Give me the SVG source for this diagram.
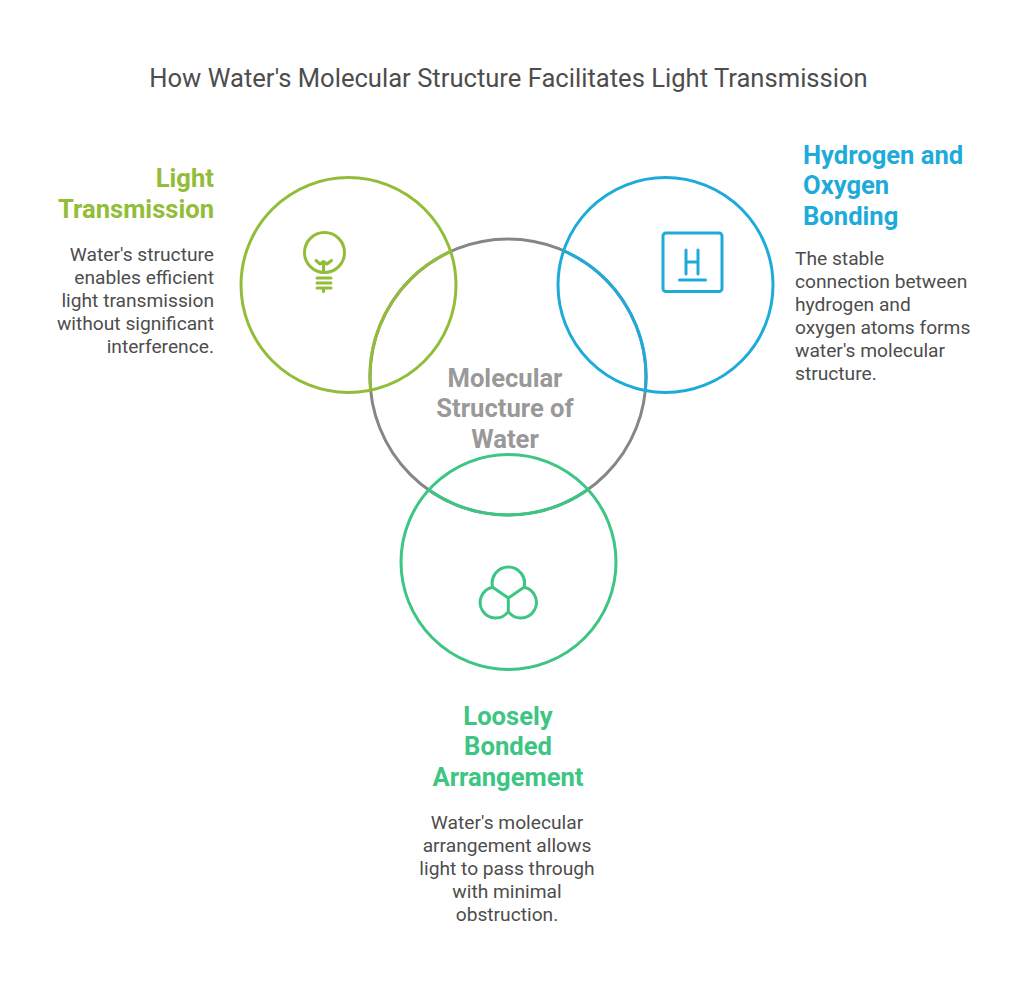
<svg xmlns="http://www.w3.org/2000/svg" width="1024" height="993" viewBox="0 0 1024 993">
<style>
text{font-family:Roboto,"Liberation Sans",sans-serif}
.t{font-size:25.600px;fill:#4d4d4d;text-anchor:middle}
.h{font-size:25.600px;font-weight:700}
.b{font-size:19.200px;fill:#4d4d4d}
.c{fill:none;stroke-width:3}
.i{fill:none;stroke-width:3;stroke-linecap:round;stroke-linejoin:round}
.g{stroke:#92bd39}.u{stroke:#1eabda}.e{stroke:#3cc583}.y{stroke:#868686}
.end{text-anchor:end}.mid{text-anchor:middle}
</style>
<rect width="1024" height="993" fill="#fff"/>
<text id="title" class="t" x="508.500" y="87">How Water's Molecular Structure Facilitates Light Transmission</text>
<g id="center">
<circle class="c y" cx="508" cy="377" r="138"/>
<g class="h mid" fill="#999"><text x="505" y="386.500">Molecular</text><text x="505" y="417.300">Structure of</text><text x="505" y="448">Water</text></g>
</g>
<g id="light">
<circle class="c g" cx="348.500" cy="285" r="107.500"/>
<circle class="i g" cx="324.500" cy="252.500" r="20"/>
<path class="i g" d="M323.500 272V261.500M316 260.500L320 264 323.500 261.500 327 264 331.500 260.500M317 278H331M317 283H331M317 288H331M323.500 288V291.500"/>
<g class="h end" fill="#92bd39"><text x="214" y="187">Light</text><text x="214" y="217.700">Transmission</text></g>
<g class="b end"><text x="214" y="261">Water's structure</text><text x="214" y="284">enables efficient</text><text x="214" y="307">light transmission</text><text x="214" y="330">without significant</text><text x="214" y="353">interference.</text></g>
</g>
<g id="hydrogen">
<circle class="c u" cx="665.500" cy="285" r="107.500"/>
<rect class="i u" x="663" y="233" width="59" height="58.500" rx="3"/>
<path class="i u" d="M686 250V274M698 250V274M686 262H698M679.500 280H705.500"/>
<g class="h" fill="#1eabda"><text x="803" y="163.700">Hydrogen and</text><text x="803" y="194.400">Oxygen</text><text x="803" y="225.100">Bonding</text></g>
<g class="b"><text x="795" y="265">The stable</text><text x="795" y="288">connection between</text><text x="795" y="311">hydrogen and</text><text x="795" y="334">oxygen atoms forms</text><text x="795" y="357">water's molecular</text><text x="795" y="380">structure.</text></g>
</g>
<g id="loose">
<circle class="c e" cx="508.500" cy="562" r="107.500"/>
<path class="i e" d="M492.700 587.300L508.300 598 524 587.300A16.200 16.200 0 1 0 492.700 587.300A15.500 15.500 0 1 0 508.300 611.500V598M508.300 611.500A15.500 15.500 0 1 0 524 587.300"/>
<g class="h mid" fill="#3cc583"><text x="508" y="724.500">Loosely</text><text x="508" y="755">Bonded</text><text x="508" y="785.700">Arrangement</text></g>
<g class="b mid"><text x="507" y="829">Water's molecular</text><text x="507" y="852">arrangement allows</text><text x="507" y="875">light to pass through</text><text x="507" y="898">with minimal</text><text x="507" y="921">obstruction.</text></g>
</g>
<g id="connectors">
<path class="c g" d="M450.600 251.400A138 138 0 0 0 370.600 390.200"/>
<path class="c u" d="M563.600 250.800A138 138 0 0 1 645.400 390.600"/>
<path class="c e" d="M428.700 489.800A138 138 0 0 0 587.900 489.500"/>
</g>
</svg>
